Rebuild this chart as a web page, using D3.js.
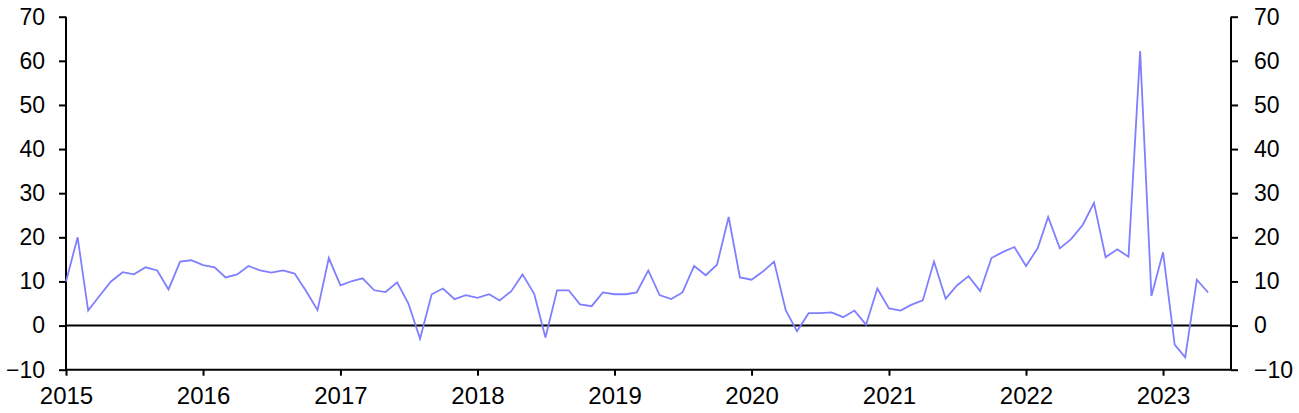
<!DOCTYPE html>
<html>
<head>
<meta charset="utf-8">
<script src="https://cdn.jsdelivr.net/npm/d3@7"></script>
<style>
  html, body { margin: 0; padding: 0; background: #fff; }
  svg { display: block; }
  text { font-family: "Liberation Sans", Arial, sans-serif; fill: #000; }
</style>
</head>
<body>
<svg id="chart" width="1299" height="413"></svg>
<script>
// Monthly data, Jan 2015 .. May 2023
const startYear = 2015;
const values = [
  10.0, 20.0, 3.4, 6.8, 10.0, 12.1, 11.6, 13.2, 12.5, 8.2, 14.5, 14.8,
  13.7, 13.2, 10.9, 11.6, 13.5, 12.5, 12.0, 12.5, 11.8, 7.9, 3.5, 15.3,
  9.1, 10.1, 10.7, 8.0, 7.6, 9.8, 5.0, -3.0, 7.1, 8.4, 6.0, 6.9,
  6.3, 7.1, 5.7, 7.8, 11.6, 7.2, -2.7, 8.0, 8.0, 4.8, 4.4, 7.5,
  7.1, 7.1, 7.5, 12.5, 6.9, 6.0, 7.5, 13.5, 11.4, 13.8, 24.6, 10.9,
  10.4, 12.3, 14.5, 3.5, -1.3, 2.8, 2.8, 3.0, 1.9, 3.4, 0.2, 8.4,
  3.9, 3.4, 4.7, 5.7, 14.5, 6.1, 9.1, 11.2, 7.8, 15.3, 16.7, 17.8,
  13.5, 17.5, 24.6, 17.5, 19.6, 22.8, 27.8, 15.5, 17.3, 15.6, 62.2, 6.7,
  16.6, -4.3, -7.2, 10.4, 7.5
];
const yTicks = [-10, 0, 10, 20, 30, 40, 50, 60, 70];
const xTickYears = [2015, 2016, 2017, 2018, 2019, 2020, 2021, 2022, 2023];

const data = values.map((v, i) => ({ date: new Date(startYear, i, 1), value: v }));

const svg = d3.select("#chart");
const margin = { left: 66, right: 68, top: 16.7, bottom: 413 - 369.7 };
const W = 1299, H = 413;

const x = d3.scaleTime()
  .domain([new Date(2015, 0, 1), new Date(2023, 6, 1)])
  .range([margin.left, W - margin.right]);
const y = d3.scaleLinear()
  .domain([-10, 70])
  .range([H - margin.bottom, margin.top]);

const axisStroke = 2;

// Left axis
const gL = svg.append("g").attr("transform", `translate(${margin.left},0)`)
  .call(d3.axisLeft(y).tickValues(yTicks).tickSize(7).tickPadding(14).tickFormat(d3.format("d")));
// Right axis
const gR = svg.append("g").attr("transform", `translate(${W - margin.right},0)`)
  .call(d3.axisRight(y).tickValues(yTicks).tickSize(7).tickPadding(16).tickFormat(d3.format("d")));
// Bottom axis
const gB = svg.append("g").attr("transform", `translate(0,${y(-10)})`)
  .call(d3.axisBottom(x).tickValues(xTickYears.map(yr => new Date(yr, 0, 1))).tickSize(6).tickPadding(11).tickFormat(d3.timeFormat("%Y")));

[gL, gR, gB].forEach(g => {
  g.select(".domain").attr("stroke", "#000").attr("stroke-width", axisStroke);
  g.selectAll(".tick line").attr("stroke", "#000").attr("stroke-width", axisStroke);
  g.selectAll("text").attr("fill", "#000");
});
gL.select(".domain").attr("d", `M-0,${y(70)}V${y(-10)}`);
gR.select(".domain").attr("d", `M0,${y(70)}V${y(-10)}`);
gB.select(".domain").attr("d", `M${margin.left},0H${W - margin.right}`);
gL.selectAll("text").style("font-size", "23px");
gR.selectAll("text").style("font-size", "23px");
gB.selectAll("text").style("font-size", "24px");

// Zero line
svg.append("line")
  .attr("x1", margin.left).attr("x2", W - margin.right)
  .attr("y1", y(0)).attr("y2", y(0))
  .attr("stroke", "#000").attr("stroke-width", 2);

// Series line
const line = d3.line().x(d => x(d.date)).y(d => y(d.value));
svg.append("path")
  .datum(data)
  .attr("fill", "none")
  .attr("stroke", "#7f7fff")
  .attr("stroke-width", 1.8)
  .attr("stroke-linejoin", "miter")
  .attr("d", line);
</script>
</body>
</html>
